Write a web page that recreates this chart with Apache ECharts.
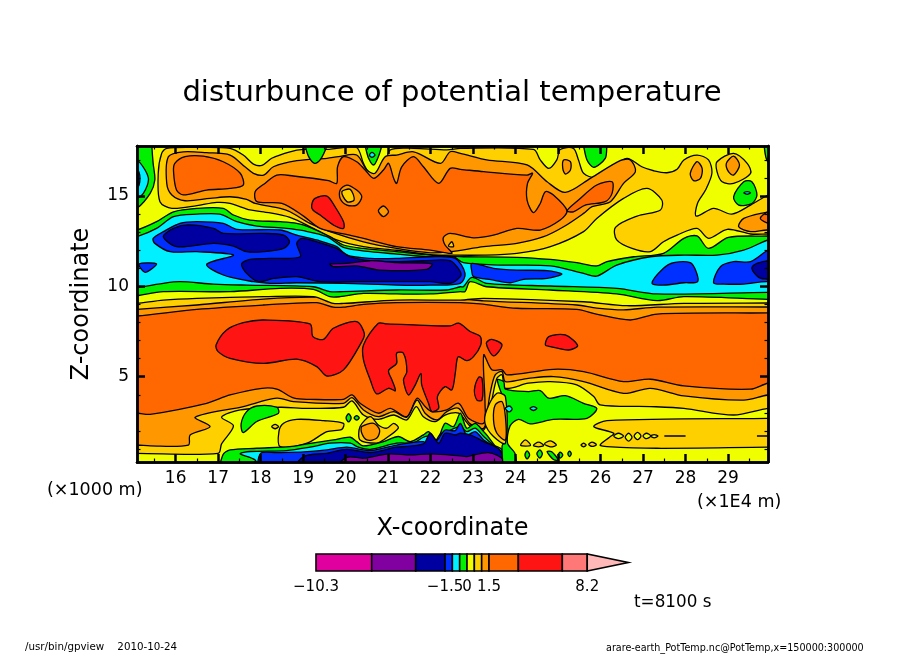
<!DOCTYPE html>
<html><head><meta charset="utf-8">
<style>html,body{margin:0;padding:0;background:#fff}#c{width:904px;height:654px}</style>
<script src="https://cdn.jsdelivr.net/npm/echarts@6/dist/echarts.min.js"></script></head>
<body><div id="c"></div>
<script>
const xMin=15.09,xMax=29.94,zMin=0.28,zMax=17.77;
const xMajor=[16,17,18,19,20,21,22,23,24,25,26,27,28,29];
const xMinor=[15.5,16.5,17.5,18.5,19.5,20.5,21.5,22.5,23.5,24.5,25.5,26.5,27.5,28.5,29.5];
const zMajor=[5,10,15];
const zMinor=[1,2,3,4,6,7,8,9,11,12,13,14,16,17];
const levelEdges=[-10.3,-6.5,-3.5,-1.5,-1,-0.5,0,0.5,1,1.5,3.5,6.5,8.2,11];
const levelTicks=[-10.3,-1.5,0,1.5,8.2];
const C={mag:'#e000a0',pur:'#8000a0',navy:'#0000a0',blue:'#0030ff',cyan:'#00f0ff',green:'#00f000',yel:'#f0ff00',gold:'#ffd000',amb:'#ff9800',ora:'#ff6800',red:'#ff1414',sal:'#ff7878',pink:'#ffb8b8'};
const levelColors=[C.mag,C.pur,C.navy,C.blue,C.cyan,C.green,C.yel,C.gold,C.amb,C.ora,C.red,C.sal,C.pink];

// contour regions: x (1E4 m), z (1000 m) pairs
const domain=[14.5,-.5,30.5,-.5,30.5,18.5,14.5,18.5];
const upAmber=[14.5,8.3,15.09,8.36,16.5,8.73,18.07,8.97,19.32,9.1,19.71,8.85,19.95,8.85,20.42,9.0,21.2,9.1,22.7,9.1,23.17,9.03,24.03,8.79,25.44,8.73,25.9,8.47,26.7,8.14,27.33,8.47,29.94,8.53,30.5,8.53,30.5,18.5,14.5,18.5];
const upGold=[14.5,8.6,15.09,8.73,16.5,8.97,18.07,9.3,19.32,9.4,19.56,9.25,19.79,9.1,20.11,9.1,21.2,9.3,22.7,9.3,23.25,9.2,25.44,8.97,25.91,8.8,26.54,8.7,27.33,8.85,29.94,8.86,30.5,8.86,30.5,18.5,14.5,18.5];
const upYellow=[14.5,8.95,15.09,9.06,15.71,9.24,16.5,9.34,18.07,9.43,19.24,9.43,19.71,9.06,19.95,9.06,21.2,9.24,22.7,9.24,23.25,9.34,25.6,9.15,26.62,8.93,27.96,9.06,29.94,9.08,30.5,9.08,30.5,18.5,14.5,18.5];
const upGreen=[14.5,9.3,15.09,9.48,15.71,9.71,17.28,9.71,18.46,9.89,19.24,9.83,19.63,9.43,19.87,9.43,20.42,9.61,21.2,9.58,21.99,9.58,22.7,9.71,22.81,9.71,22.93,10.26,23.32,9.98,24.82,9.8,26.38,9.58,27.33,9.21,27.96,9.43,29.94,9.28,30.5,9.28,30.5,12.85,29.94,12.79,29.01,12.71,28.54,12.1,28.27,12.79,27.96,12.66,27.48,11.83,26.78,11.64,26.15,11.37,25.91,11.13,25.44,11.31,24.82,11.49,24.03,11.61,22.77,11.64,22.46,11.68,21.99,11.73,21.2,11.92,20.42,12.1,19.95,12.29,19.63,12.75,19.16,13.27,18.85,13.49,18.46,13.58,17.75,13.67,17.36,13.95,17.12,14.32,16.5,14.32,15.95,14.13,15.55,13.58,15.09,13.12,14.5,12.8];
const upCyan=[14.5,9.7,15.09,9.93,15.71,10.17,16.1,10.26,16.89,10.13,17.67,10.07,19.24,9.98,19.63,9.71,19.95,9.71,21.2,9.8,22.38,9.8,22.7,9.98,22.77,9.98,22.97,10.5,23.32,10.17,24.82,10.02,26.38,9.89,27.33,9.58,29.94,9.67,30.5,9.67,30.5,12.9,29.94,12.57,29.37,12.01,28.74,11.73,27.96,11.73,27.17,11.64,26.38,11.18,25.91,10.57,25.6,10.72,24.82,11.13,23.64,11.18,22.77,11.31,22.54,11.64,21.99,11.64,21.2,11.79,20.58,11.92,19.95,12.16,19.56,12.75,19.01,13.08,18.61,13.21,17.91,13.34,17.44,13.58,17.04,14,16.5,14,15.95,13.86,15.55,13.21,15.09,12.75,14.5,12.4];
const blue1=[15.47,12.66,15.71,13.03,16.1,13.49,16.5,13.58,17.12,13.49,17.44,13.16,18.46,13.12,18.85,12.84,19.32,12.57,19.79,12.2,20.03,11.73,20.58,11.55,21.2,11.55,21.99,11.64,22.58,11.55,22.81,10.72,22.7,10.17,21.99,10.07,21.2,10.07,19.95,10.17,18.85,10.2,18.22,10.17,17.83,10.26,17.12,10.63,16.73,11.22,17.36,11.73,16.5,11.92,15.87,11.92,15.51,12.38];
const blue1b=[15.14,11.24,15.55,11.24,15.28,10.78];
const blue2=[22.97,11.27,23.48,11,24.03,10.9,24.74,10.87,25.09,10.68,24.74,10.44,24.19,10.39,23.87,10.2,23.48,10.35,23.01,10.54,22.97,10.81];
const blue3=[27.21,10.17,27.48,11,27.72,11.31,28.11,11.31,28.25,10.81,28.28,10.26,27.96,10.2,27.48,10.07];
const blue4=[28.66,10.2,28.82,11.09,29.13,11.37,29.53,11.37,29.94,12.01,30.4,12.5,30.4,10,29.94,10.26,29.37,10.13,28.9,10.13];
const navy5=[29.56,11,29.68,11.27,29.94,11.42,30.4,11.6,30.4,10.2,29.94,10.39,29.72,10.5];
const navy1=[15.71,12.75,15.95,13.21,16.3,13.4,16.89,13.21,17.12,12.93,18.07,12.93,18.54,12.84,18.68,12.47,18.54,12.1,18.07,11.92,17.67,11.92,17.36,12.23,16.89,12.38,16.02,12.2];
const navy2=[17.55,11.24,17.75,11.49,18.22,11.55,18.93,11.64,18.85,12.38,18.97,12.66,19.32,12.47,19.79,12.1,20.11,11.64,20.58,11.42,21.2,11.37,21.83,11.42,22.46,11.42,22.7,10.81,22.7,10.54,22.46,10.17,21.99,10.26,21.2,10.26,20.26,10.26,19.4,10.26,18.85,10.54,18.3,10.44,17.95,10.26,17.67,10.72];
const purple1=[19.63,11.24,20.03,11.27,20.58,11.42,21.2,11.31,22.03,11.24,21.91,10.94,20.81,10.9,20.26,11.13,19.71,11.09];
const greenL=[14.7,18.3,15.44,18.3,15.44,17.77,15.47,16.81,15.51,15.89,15.4,15.15,15.09,14.32,14.7,13.9];
const cyanL=[14.7,17.4,15.09,17,15.28,16.44,15.36,15.89,15.24,15.15,15.09,14.87,14.7,14.6];
const blueL=[14.7,16.9,15.09,16.48,15.16,15.98,15.09,15.42,14.7,15];
const green2=[19,18.3,19.05,17.77,19.13,17.18,19.27,16.81,19.4,17,19.56,17.77,19.6,18.3];
const green3=[20.4,18.3,20.46,17.77,20.54,17.09,20.66,16.72,20.77,17.18,20.85,17.77,20.9,18.3];
const cyan3=[20.56,17.27,20.62,17.42,20.69,17.27,20.62,17.14];
const goldTop=[15.67,17.36,15.79,17.64,16.5,17.69,17.28,17.64,17.59,17.27,17.83,16.77,18.03,16.7,18.26,17.09,18.69,17.45,19.01,17.58,19.56,17.58,19.79,17.64,20.26,17.69,20.42,16.81,20.54,16.35,20.73,16.16,20.93,16.72,21.05,17.55,21.6,17.64,22.38,17.55,22.7,17.64,24.42,17.58,24.58,17,24.78,16.53,24.97,17,25.05,17.58,25.36,17.64,25.48,17,25.6,16.26,25.87,16.03,26.23,16.53,26.62,17.09,26.97,16.62,27.25,16.4,27.56,16.29,27.8,16.48,27.96,17,28.27,17.27,28.54,17,28.62,16.26,28.47,15.33,28.28,14.59,28.25,13.89,28.66,14.32,29.09,14,29.53,14.5,29.94,15.06,30.4,15.5,30.4,12.9,29.94,12.9,29.53,12.9,28.98,13.16,28.54,12.66,28.27,13.21,27.8,12.84,27.48,12.47,27.17,11.92,26.74,12.1,26.38,12.57,26.35,13.27,26.86,13.89,27.41,14.23,27.44,14.78,27.09,15.42,26.54,14.87,25.91,13.76,25.6,13.03,24.82,12.2,24.03,11.83,23.25,11.73,22.46,11.73,21.99,11.76,21.2,12,20.42,12.2,19.79,12.57,19.24,13.21,18.69,13.82,18.07,14.13,17.75,14.23,17.28,14.59,16.97,14.65,16.5,14.47,15.91,14.32,15.63,14.69,15.59,16.26];
const sliverR=[29.85,18.3,29.85,17.77,29.94,16.9,30.4,16.5,30.4,18.3];
const greenR=[29.13,14.96,29.37,15.79,29.56,15.79,29.68,15.06,29.56,14.59,29.25,14.5];
const cyanR=[29.37,15.18,29.45,15.25,29.53,15.18,29.45,15.1];
const green4=[25.55,18.3,25.6,17.77,25.68,17,25.84,16.59,26.11,17.09,26.15,17.77,26.2,18.3];
const goldBlob=[28.74,16.9,29.13,17.36,29.45,16.81,29.53,16.26,29.13,15.7,28.86,15.79,28.74,16.35];
const amberBlob=[28.96,16.81,29.13,17.21,29.27,16.72,29.13,16.16,29.01,16.35];
const amberS1=[25.13,17,25.29,16.9,25.29,16.44,25.17,16.22,25.11,16.53];
const amberS2=[28.11,16.26,28.27,16.9,28.39,16.53,28.35,15.98,28.19,15.85];
const amberEdge=[29.25,13.3,29.37,13.76,29.94,14.13,30.4,14.4,30.4,12.9,29.94,13.12,29.53,13.03];
const orangeTip=[29.76,13.76,29.94,14.13,30.4,14.4,30.4,13.1,29.94,13.49];
const amberTop=[15.83,17.18,16.18,17.45,16.73,17.4,17.28,17.27,17.63,16.62,17.83,16.26,18.07,16.16,18.3,16.62,18.85,16.96,19.56,17.09,19.83,17.18,20.26,17.27,20.5,16.44,20.69,16.26,20.93,17.18,21.2,17.27,21.6,17.45,22.23,16.81,22.46,17.45,22.7,17.36,23.32,17,24.27,16.72,24.74,15.79,25.17,15.2,25.76,15.98,26.46,16.96,26.7,17,26.82,16.35,26.54,15.7,26.23,14.69,25.8,14.41,25.6,14.04,25.13,13.3,24.66,12.75,24.03,12.38,23.25,12.2,22.46,11.92,21.99,11.86,21.2,12.1,20.42,12.47,19.63,13.03,19.16,13.49,18.69,14.13,18.46,14.32,17.87,14.59,17.67,14.82,17.28,14.96,16.81,14.87,16.22,14.74,15.91,15.06,15.79,15.7];
const orangeLeft=[15.95,16.35,15.98,16.81,16.22,17.18,16.65,17.21,17.12,16.9,17.52,16.26,17.59,15.61,17.28,15.42,16.73,15.33,16.18,15.06,16.02,15.33];
const orangeTop=[17.87,15.24,18.1,15.7,18.38,16.16,18.77,16.11,19.6,15.85,19.79,15.7,19.81,16.62,19.95,17.18,20.26,16.9,20.46,16.44,20.66,15.98,20.89,16.44,21.01,16.81,21.13,15.98,21.2,15.7,21.32,16.62,21.6,17.18,21.83,16.62,22.19,15.7,22.46,16.53,22.7,16.48,23.25,16.35,24.27,16.16,24.4,16.26,24.28,15.7,24.27,14.78,24.42,14.08,24.58,14.59,24.7,15.24,24.89,15.06,25.21,14.19,25.05,13.67,24.58,13.12,24.03,13.21,23.48,12.84,23.01,12.69,22.46,12.93,22.3,12.71,22.34,12.29,22.5,11.83,21.99,12.01,21.2,12.2,20.42,12.66,19.95,12.9,19.4,13.21,19.01,13.89,18.5,14.59,17.91,14.69];
const orangeMid=[25.21,14.19,25.48,14.78,25.91,15.61,26.27,15.79,26.27,15.15,26.11,14.69,25.64,14.5,25.36,14.13];
const redTop=[19.2,14.5,19.28,14.87,19.56,15,19.75,14.41,19.95,13.58,19.95,13.21,19.71,13.4,19.4,13.95,19.23,14.23];
const amberRing=[19.87,15.33,20.03,15.61,20.26,15.33,20.38,14.96,20.26,14.5,20.03,14.5,19.87,14.87];
const goldRing=[19.91,15.24,20.11,15.37,20.2,14.78,20.03,14.69];
const amberDia=[20.77,14.19,20.89,14.45,21.01,14.13,20.89,13.86];
const goldDot=[22.42,12.23,22.5,12.47,22.54,12.2];

const amberLow=[14.5,2.9,15.09,2.98,15.4,2.92,16.73,3.53,17.28,3.99,18.03,4.36,18.38,4.31,18.79,3.81,19.16,3.75,19.95,3.75,20.15,3.99,20.34,3.53,20.77,2.98,21.05,3.25,21.44,2.79,21.68,3.81,21.87,3.35,22.03,3.07,22.38,3.16,22.66,3.53,22.89,2.7,23.25,2.42,23.28,3.53,23.25,6.21,23.44,5.38,23.68,5.38,23.8,5.1,24.89,5.41,25.6,5.28,26.54,4.73,27.17,4.86,27.96,4.49,29.53,4.31,29.94,4.64,30.5,4.7,30.5,-.5,14.5,-.5];
const goldLow=[14.5,1.2,15.09,1.22,15.4,1.17,16.3,1.22,16.34,1.78,16.81,2.24,16.46,2.76,17.59,3.35,18.38,3.81,18.77,3.62,19.95,3.53,20.15,3.84,20.42,3.16,20.77,2.79,21.13,3.07,21.44,2.76,21.68,3.71,21.87,2.98,22.15,2.61,22.38,3.07,22.66,3.25,22.93,2.39,23.25,2.15,23.34,3.16,23.4,4.08,23.52,5.1,23.68,5.28,23.76,4.73,24.3,4.91,24.89,5.01,25.6,4.73,26.54,4.08,27.17,4.36,27.96,3.94,29.37,3.71,29.94,3.99,30.5,4.05,30.5,-.5,14.5,-.5];
const yellowLow=[14.5,.76,15.09,.76,17,.76,17.08,1.28,17.36,2.28,17.08,2.76,17.52,3.16,18.46,3.31,19.09,3.25,19.95,3.31,20.15,3.66,20.42,2.88,20.77,2.64,21.13,2.88,21.44,2.61,21.66,3.35,21.83,2.79,22.11,2.52,22.34,2.88,22.66,2.98,22.93,2.28,23.25,2.05,23.36,2.98,23.44,3.71,23.56,4.91,23.68,5.1,23.76,4.36,24.3,4.64,24.82,4.73,25.44,4.55,25.84,3.9,25.99,3.44,27.17,3.35,27.96,3.25,29.13,2.88,29.94,3.25,30.5,3.3,30.5,-.5,14.5,-.5];
const goldRight=[25.84,2.24,26.15,2.57,29.92,2.7,30.4,2.7,30.4,1.1,29.94,1.1,27.33,1.04,26.15,1.13,25.99,1.22,26.21,1.65,26.31,1.87];
const dia1=[26.31,1.72,26.42,1.87,26.54,1.72,26.42,1.57];
const dia2=[26.58,1.65,26.66,1.87,26.74,1.65,26.66,1.43];
const dia3=[26.79,1.72,26.87,1.92,26.95,1.72,26.87,1.52];
const dia4=[27,1.72,27.08,1.87,27.18,1.72,27.08,1.57];
const dia5=[27.18,1.72,27.26,1.8,27.35,1.72,27.26,1.62];
const seam1=[27.5,1.72,28,1.72];
const seam2=[29.68,1.72,29.94,1.72];
const greenBlob=[17.54,2.39,17.67,3.07,17.91,3.38,18.38,3.31,18.42,2.98,17.91,2.52,17.59,1.91];
const goldPatch=[18.43,1.96,18.54,2.42,18.85,2.64,19.48,2.57,19.95,2.42,19.91,2.09,19.56,1.96,19.09,1.32,18.46,1.13];
const goldRound=[20.34,2.24,20.58,2.79,20.77,2.33,20.97,2.15,21.13,2.42,21.24,2.15,20.89,1.5,20.73,1.32,20.34,1.5];
const amberRound=[20.38,2.24,20.66,2.42,20.8,2.05,20.73,1.59,20.5,1.5,20.38,1.87];
const greenD1=[20.01,2.72,20.07,2.95,20.13,2.72,20.07,2.5];
const greenD2=[20.2,2.72,20.26,2.85,20.32,2.72,20.26,2.6];
const goldD1=[18.26,2.24,18.34,2.36,18.42,2.24,18.34,2.12];
const greenBottom=[17.08,-.3,17.11,.67,17.28,.95,17.91,1.04,18.69,1.13,19.09,1.28,19.71,1.5,20.11,1.65,20.26,1.41,20.42,1.17,20.89,1.41,21.24,1.69,21.52,1.41,21.83,1.78,21.95,1.96,22.15,1.5,22.34,2.42,22.54,2.24,22.7,2.98,22.85,2.15,23.05,2.42,23.25,1.96,23.32,1.78,23.6,.95,23.76,.86,23.76,-.3];
const cyanBottom=[17.52,.73,17.75,.86,18.61,.91,19.16,1.1,19.63,1.32,20.11,1.32,20.3,1.1,20.58,.98,21.2,1.32,21.6,1.35,21.83,1.65,21.95,1.69,22.03,1.13,22.23,1.83,22.38,1.96,22.7,2.24,22.85,1.96,23.05,2.15,23.25,1.69,23.48,1.22,23.68,.95,23.72,-.3,18.03,-.3,17.87,.39];
const blueBottom=[18,-.3,18,.76,18.38,.8,19.01,.84,19.56,.95,20.03,1.1,20.58,.91,21.2,1.22,21.83,1.41,21.99,1.1,22.19,1.59,22.34,2.05,22.58,2.02,22.7,2.42,22.85,1.78,23.05,1.96,23.25,1.5,23.68,.8,23.72,-.3];
const navyBottom=[18.77,-.3,19.01,.58,19.56,.76,20.03,.98,20.58,.8,21.2,1.1,21.83,1.28,21.99,1.87,22.19,1.32,22.34,1.87,22.58,1.78,22.7,1.87,22.93,1.78,23.25,1.41,23.64,.91,23.72,-.3];
const purpleBottom=[19.71,-.3,20.03,.54,20.42,.49,21.01,.73,21.52,.67,22.03,.73,22.7,.62,22.85,.58,23.36,.8,23.72,.39,23.72,-.3];
const greenRight=[23.57,4.82,23.72,4.73,23.76,4.31,24.3,4.18,24.58,4.23,24.78,3.81,25.17,3.95,25.6,3.53,25.91,3.25,25.68,2.7,24.89,2.64,24.34,2.39,24.07,2.64,23.87,2.28,23.81,1.32,23.99,.73,23.99,-.3,23.76,-.3,23.68,1.13,23.76,1.5,23.76,3.35];
const ridgeGold=[23.32,3.16,23.56,4.08,23.76,3.9,23.76,1.32,23.48,1.69,23.28,2.42];
const ridgeAmber=[23.52,3.44,23.68,3.62,23.76,2.79,23.76,1.5,23.56,1.87,23.48,2.61];
const cyanSpot=[24.34,3.25,24.42,3.35,24.5,3.25,24.42,3.13];
const cyanSpot2=[23.76,3.25,23.85,3.38,23.92,3.22,23.85,3.05];
const greenS1=[24.22,.67,24.27,.9,24.33,.67,24.27,.45];
const greenS2=[24.5,.73,24.57,.95,24.63,.73,24.57,.5];
const greenS3=[24.74,.85,24.9,.4,25,.4,24.85,.85];
const greenS4=[25,.67,25.05,.82,25.11,.67,25.05,.5];
const greenS5=[25.23,.73,25.27,.88,25.31,.73,25.27,.58];
const goldS1=[24.12,1.2,24.23,1.5,24.35,1.2];
const goldS2=[24.42,1.2,24.54,1.38,24.66,1.2,24.54,1.12];
const goldS3=[24.68,1.28,24.82,1.45,24.96,1.22,24.82,1.12];
const goldS4=[25.54,1.22,25.6,1.32,25.66,1.22,25.6,1.12];
const goldS5=[25.72,1.26,25.8,1.38,25.9,1.24,25.8,1.14];
const redA=[16.95,6.76,17.2,7.59,17.59,7.99,18.07,8.14,19.16,7.92,19.23,7.22,19.48,7.07,19.71,7.68,20.26,8.05,20.44,7.4,20.38,6.94,19.95,5.38,19.56,5.04,19.32,5.56,18.85,5.97,18.07,5.74,17.28,6.02,17,6.39];
const redB=[20.42,6.76,20.42,5.93,20.58,4.82,20.73,4.05,21.01,4.36,21.17,4.23,21.09,4.82,21.01,5.34,21.2,5.74,21.2,6.3,21.36,6.3,21.44,5.28,21.36,4.82,21.48,3.99,21.64,4.55,21.77,5.19,21.79,4.55,21.95,3.53,22.03,3.07,22.19,3.25,22.16,3.9,22.34,4.45,22.5,4.27,22.58,5.19,22.62,5.93,22.66,6.11,22.85,5.89,23.01,6.11,23.18,6.76,23.17,7.22,22.93,7.5,22.66,7.96,22.46,7.81,21.6,7.87,20.97,7.92,20.77,7.96];
const redC=[23.31,6.85,23.44,7.07,23.68,6.76,23.48,6.15];
const redD=[23.03,4.27,23.13,4.97,23.21,4.91,23.21,3.71,23.09,3.71];
const redE=[24.7,6.76,24.78,7.22,25.17,7.31,25.46,6.72,25.25,6.48,24.82,6.67];

const layers=[
[domain,C.ora],[upAmber,C.amb],[upGold,C.gold],[upYellow,C.yel],
[goldTop,C.gold],[amberTop,C.amb],[orangeLeft,C.ora],[orangeTop,C.ora],[orangeMid,C.ora],
[redTop,C.red],[amberRing,C.amb],[goldRing,C.gold],[amberDia,C.amb],[goldDot,C.gold],
[goldBlob,C.gold],[amberBlob,C.amb],[amberS1,C.amb],[amberS2,C.amb],[amberEdge,C.amb],[orangeTip,C.ora],
[greenL,C.green],[cyanL,C.cyan],[blueL,C.blue],[green2,C.green],[green3,C.green],[cyan3,C.cyan],[green4,C.green],[sliverR,C.green],[greenR,C.green],[cyanR,C.cyan],
[upGreen,C.green],[upCyan,C.cyan],[blue1,C.blue],[blue1b,C.blue],[blue2,C.blue],[blue3,C.blue],[blue4,C.blue],[navy5,C.navy],[navy1,C.navy],[navy2,C.navy],[purple1,C.pur],
[amberLow,C.amb],[goldLow,C.gold],[yellowLow,C.yel],[goldRight,C.gold],[dia1,C.yel],[dia2,C.yel],[dia3,C.yel],[dia4,C.yel],[dia5,C.yel],[seam1,C.gold],[seam2,C.gold],
[greenBlob,C.green],[goldPatch,C.gold],[goldRound,C.gold],[amberRound,C.amb],[greenD1,C.green],[greenD2,C.green],[goldD1,C.gold],
[greenBottom,C.green],[cyanBottom,C.cyan],[blueBottom,C.blue],[navyBottom,C.navy],[purpleBottom,C.pur],
[greenRight,C.green],[ridgeGold,C.gold],[ridgeAmber,C.amb],[cyanSpot,C.cyan],[cyanSpot2,C.cyan],
[greenS1,C.green],[greenS2,C.green],[greenS3,C.green],[greenS4,C.green],[greenS5,C.green],[goldS1,C.gold],[goldS2,C.gold],[goldS3,C.gold],[goldS4,C.gold],[goldS5,C.gold],
[redA,C.red],[redB,C.red],[redC,C.red],[redD,C.red],[redE,C.red]
];

const FONT='"DejaVu Sans"';
const tickAxis=(pos,vals,len,w,labels)=>({type:'value',position:pos,min:xMin,max:xMax,gridIndex:0,z:10,
  splitLine:{show:false},
  axisLine:{show:true,onZero:false,lineStyle:{color:'#000',width:2.5}},
  axisTick:{show:true,inside:true,length:len,customValues:vals,lineStyle:{color:'#000',width:w}},
  axisLabel:labels?{show:true,customValues:vals,color:'#000',fontFamily:FONT,fontSize:17,margin:8,formatter:v=>String(v)}:{show:false}});
const xA=[tickAxis('bottom',xMajor,8,2.5,true),tickAxis('top',xMajor,8,2.5),tickAxis('bottom',xMinor,3.5,1.2),tickAxis('top',xMinor,3.5,1.2)];
xA[0].name='X-coordinate';xA[0].nameLocation='middle';xA[0].nameGap=55;xA[0].nameTextStyle={color:'#000',fontFamily:FONT,fontSize:24};
const yA=[tickAxis('left',zMajor,8,2.5,true),tickAxis('right',zMajor,8,2.5),tickAxis('left',zMinor,3.5,1.2),tickAxis('right',zMinor,3.5,1.2)];
yA.forEach(a=>{a.min=zMin;a.max=zMax;});
yA[0].axisLabel.padding=[3,0,0,0];
yA[0].name='Z-coordinate';yA[0].nameLocation='middle';yA[0].nameGap=43;yA[0].nameRotate=90;yA[0].nameTextStyle={color:'#000',fontFamily:FONT,fontSize:24};
xA.push({type:'value',gridIndex:1,min:-10.3,max:11,splitLine:{show:false},axisLine:{show:false},axisTick:{show:false},
  axisLabel:{show:true,customValues:levelTicks,color:'#000',fontFamily:FONT,fontSize:15,margin:9,formatter:v=>String(v).replace('-','\u2212')}});
yA.push({type:'value',gridIndex:1,min:0,max:1,show:false});

const chart=echarts.init(document.getElementById('c'),null,{renderer:'canvas'});
chart.setOption({animation:false,backgroundColor:'#fff',
 title:{text:'disturbunce of potential temperature',left:'center',top:74,textStyle:{color:'#000',fontFamily:FONT,fontSize:29,fontWeight:'normal'}},
 grid:[{left:137,right:136,top:146,bottom:192},{left:316,width:312.3,top:554,height:17}],
 xAxis:xA,yAxis:yA,
 series:[
 {type:'custom',xAxisIndex:0,yAxisIndex:0,silent:true,clip:true,z:2,data:layers.map((_,i)=>[i,i]),
  renderItem:(p,api)=>{const l=layers[api.value(0)],pts=[];for(let i=0;i<l[0].length;i+=2)pts.push(api.coord([l[0][i],l[0][i+1]]));
    return {type:'polygon',shape:{points:pts,smooth:0.3},style:{fill:l[1],stroke:'#000',lineWidth:1.3},
      clipPath:{type:'rect',shape:{x:p.coordSys.x,y:p.coordSys.y,width:p.coordSys.width,height:p.coordSys.height}}};}},
 {type:'custom',xAxisIndex:4,yAxisIndex:4,silent:true,z:2,data:levelColors.map((_,i)=>[i,i]),
  renderItem:(p,api)=>{const i=api.value(0),a=levelEdges[i],b=levelEdges[i+1];
    const pts=i===levelColors.length-1?[[a,0],[b,.5],[a,1]]:[[a,0],[b,0],[b,1],[a,1]];
    return {type:'polygon',shape:{points:pts.map(q=>api.coord(q))},style:{fill:levelColors[i],stroke:'#000',lineWidth:1.6}};}}
 ],
 graphic:[
 {type:'text',left:47,top:481,style:{text:'(\u00d71000 m)',fill:'#000',font:'17.5px '+FONT}},
 {type:'text',left:697,top:493,style:{text:'(\u00d71E4 m)',fill:'#000',font:'17.5px '+FONT}},
 {type:'text',left:634,top:594,style:{text:'t=8100 s',fill:'#000',font:'16.8px '+FONT}},
 {type:'text',left:25,top:642,style:{text:'/usr/bin/gpview    2010-10-24',fill:'#000',font:'10.3px '+FONT}},
 {type:'text',left:606,top:643,style:{text:'arare-earth_PotTemp.nc@PotTemp,x=150000:300000',fill:'#000',font:'9.6px '+FONT}}
 ]});
</script></body></html>
